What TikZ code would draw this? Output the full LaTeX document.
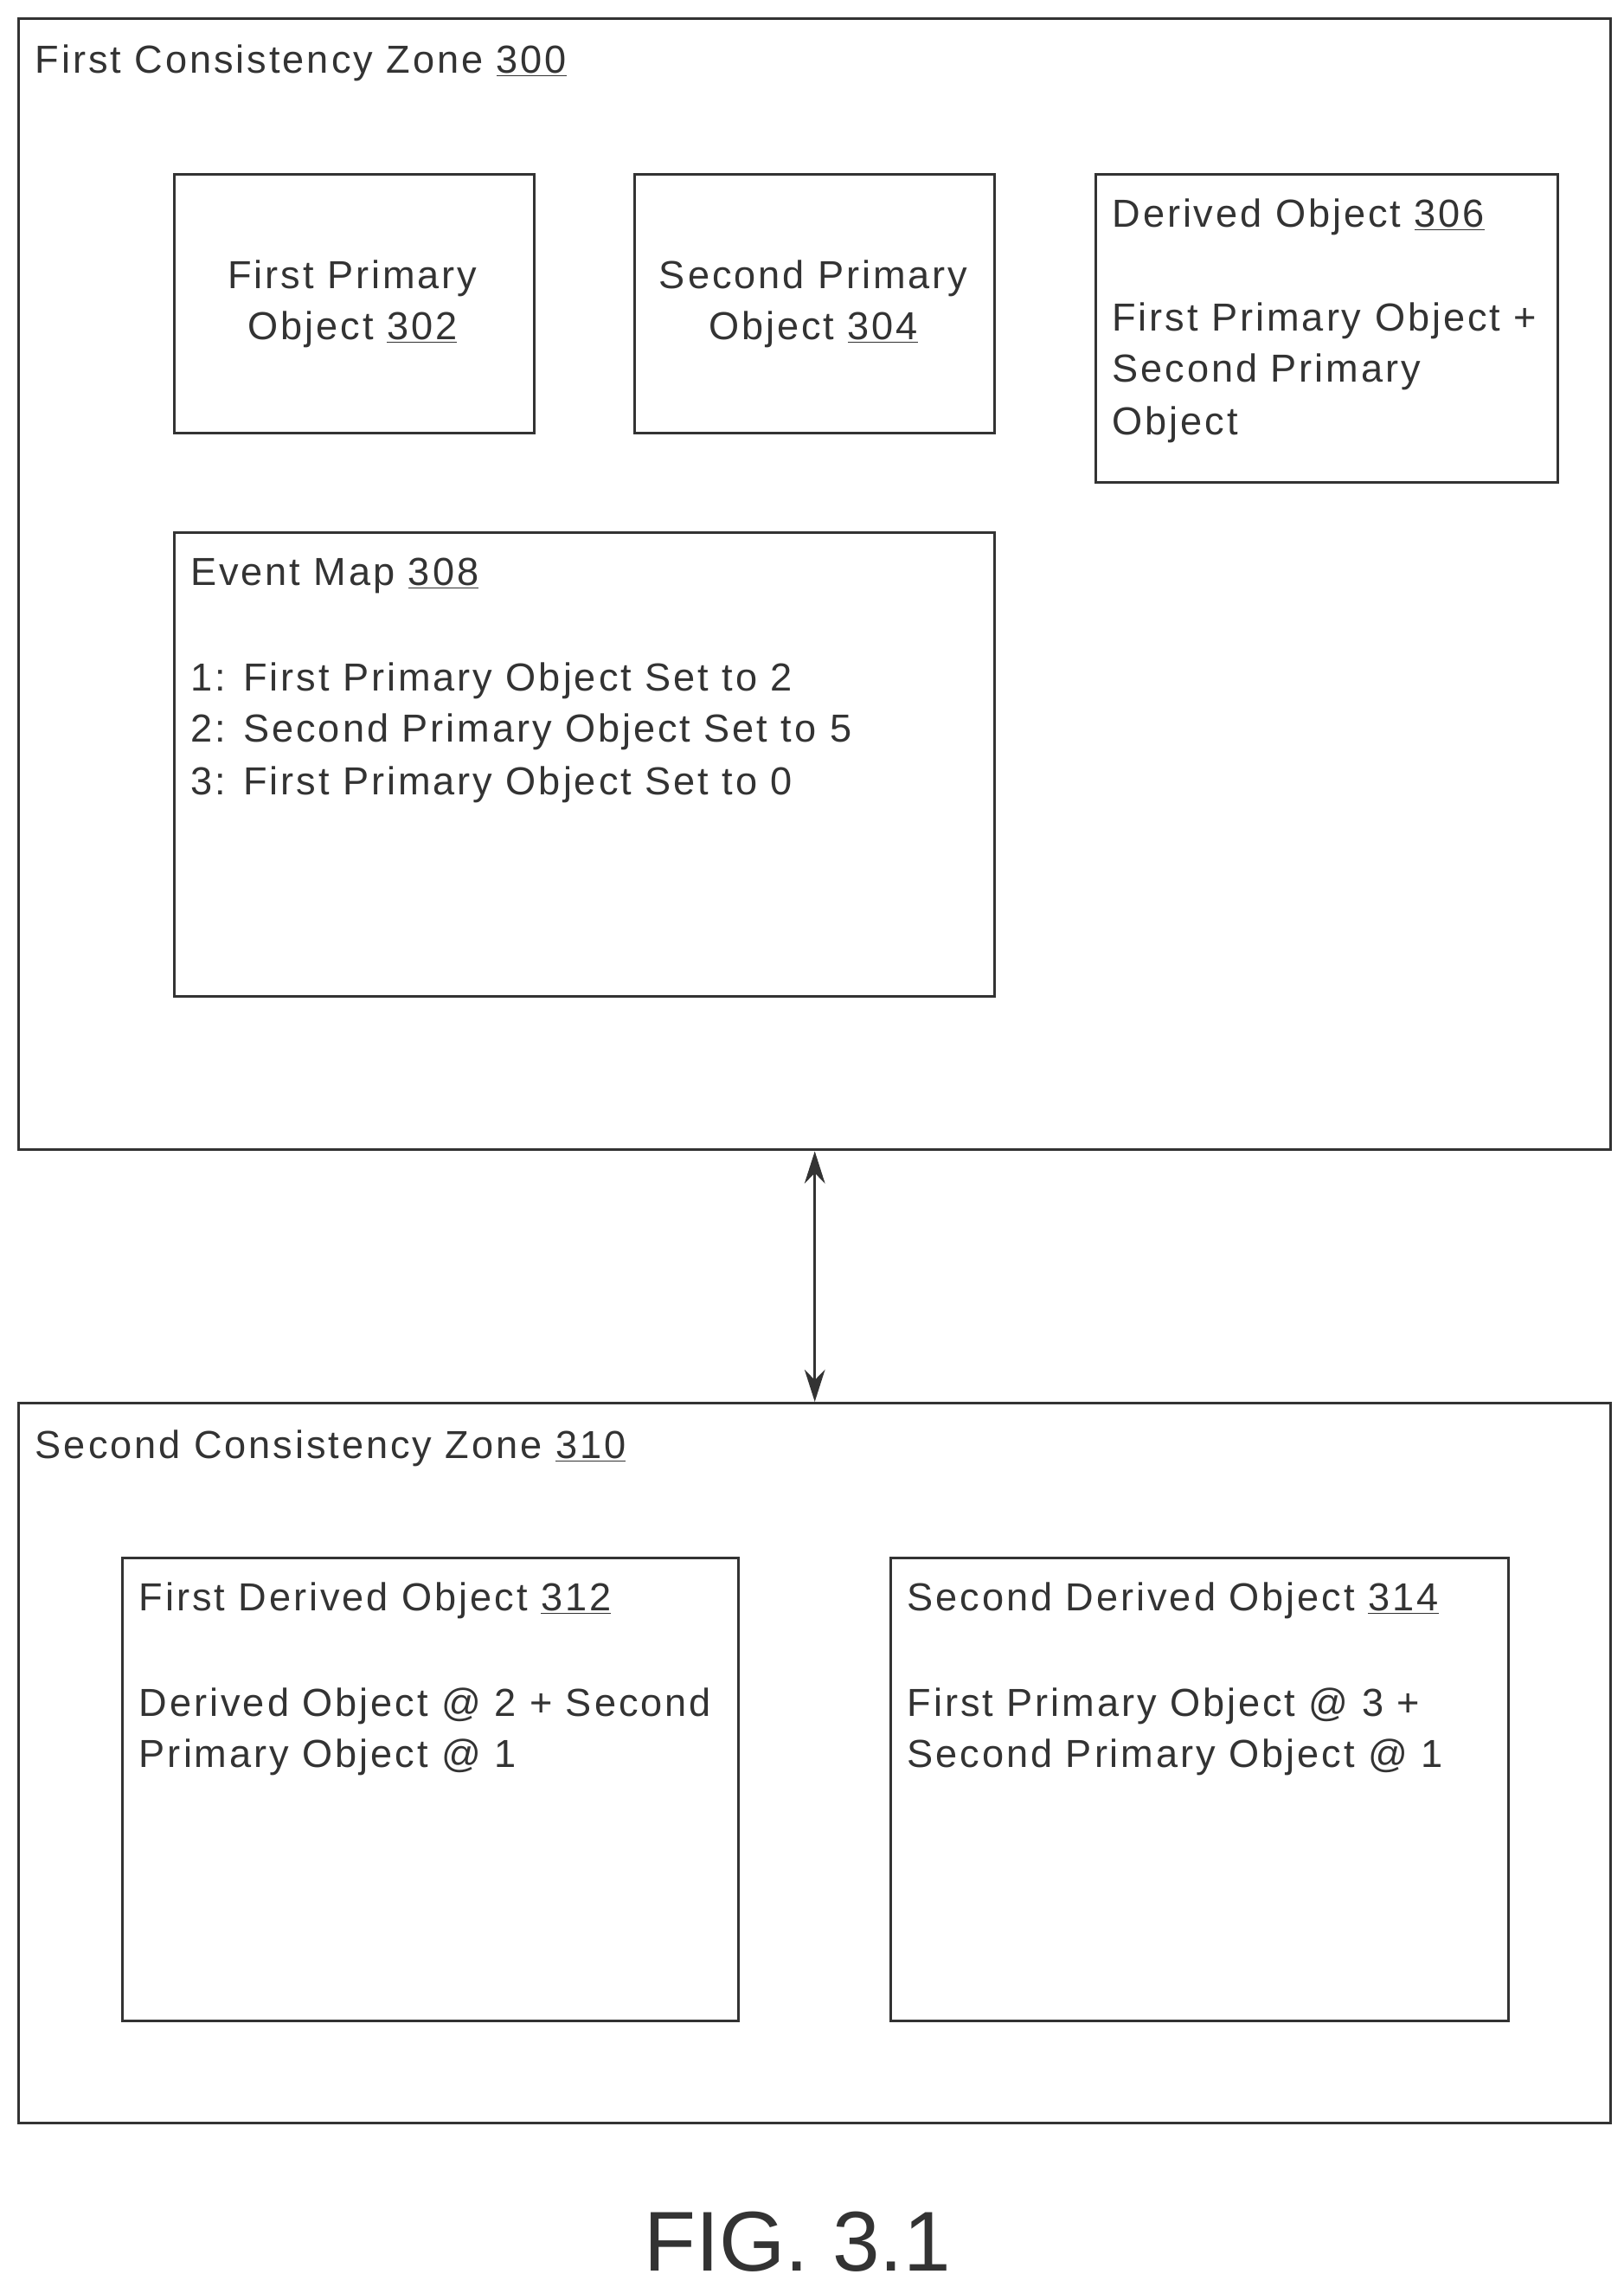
\documentclass[tikz,border=0pt]{standalone}
\usepackage{fontspec}
\setmainfont{Liberation Sans}
\newfontfamily\spaced[LetterSpace=6.5]{Liberation Sans}
\usetikzlibrary{arrows.meta}
\begin{document}
\begin{tikzpicture}[x=1pt,y=-1pt,
  box/.style={draw=black!80,line width=1.8pt,anchor=north west,inner sep=0pt},
  t/.style={anchor=base west,inner sep=0pt,font=\spaced\fontsize{26.7}{32}\selectfont,text=black!80},
  tc/.style={anchor=base,inner sep=0pt,font=\spaced\fontsize{26.7}{32}\selectfont,text=black!80}]
\useasboundingbox (0,0) rectangle (1110,1563);
\node[box,minimum width=1088pt,minimum height=773pt] (z1) at (12,12) {};
\node[box,minimum width=246pt,minimum height=177pt] (b302) at (118,118) {};
\node[box,minimum width=246pt,minimum height=177pt] (b304) at (433,118) {};
\node[box,minimum width=316pt,minimum height=211pt] (b306) at (748,118) {};
\node[box,minimum width=561pt,minimum height=317pt] (b308) at (118,363) {};
\node[box,minimum width=1088pt,minimum height=492pt] (z2) at (12,958) {};
\node[box,minimum width=421pt,minimum height=316pt] (b312) at (83,1064) {};
\node[box,minimum width=422pt,minimum height=316pt] (b314) at (608,1064) {};
\draw[line width=1.8pt,black!80,{Stealth[length=22pt,width=14pt]}-{Stealth[length=22pt,width=14pt]}] (z1.south) -- (z2.north);

\node[t] (l300) at (24,50) {First Consistency Zone \underline{300}};
\node[tc] (l302a) at (241,197) {First Primary};
\node[tc] (l302b) at (241,232) {Object \underline{302}};
\node[tc] (l304a) at (556,197) {Second Primary};
\node[tc] (l304b) at (556,232) {Object \underline{304}};
\node[t] (l306a) at (760,155) {Derived Object \underline{306}};
\node[t] (l306b) at (760,226) {First Primary Object +};
\node[t] (l306c) at (760,261) {Second Primary};
\node[t] (l306d) at (760,297) {Object};
\node[t] (l308a) at (130,400) {Event Map \underline{308}};
\node[t] (l308b) at (130,472) {1: First Primary Object Set to 2};
\node[t] (l308c) at (130,507) {2: Second Primary Object Set to 5};
\node[t] (l308d) at (130,543) {3: First Primary Object Set to 0};
\node[t] (l310) at (24,997) {Second Consistency Zone \underline{310}};
\node[t] (l312a) at (95,1101) {First Derived Object \underline{312}};
\node[t] (l312b) at (95,1173) {Derived Object @ 2 + Second};
\node[t] (l312c) at (95,1208) {Primary Object @ 1};
\node[t] (l314a) at (620,1101) {Second Derived Object \underline{314}};
\node[t] (l314b) at (620,1173) {First Primary Object @ 3 +};
\node[t] (l314c) at (620,1208) {Second Primary Object @ 1};
\node[tc,font=\fontsize{58}{70}\selectfont,text=black!80] (fig) at (545,1552) {FIG. 3.1};
\end{tikzpicture}
\end{document}
